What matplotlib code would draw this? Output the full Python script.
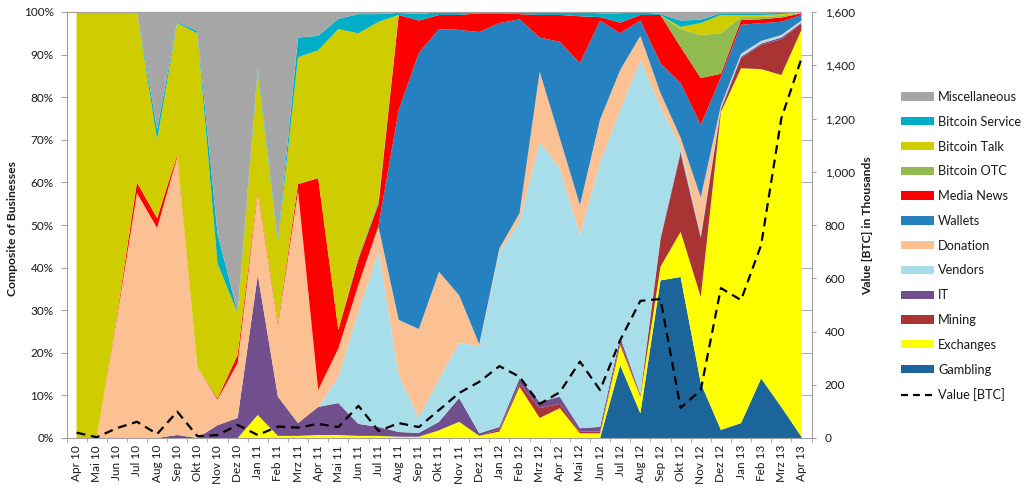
import numpy as np
import matplotlib
matplotlib.use("Agg")
import matplotlib.pyplot as plt
from matplotlib.patches import Patch
from matplotlib.lines import Line2D
from matplotlib.ticker import MultipleLocator, FixedLocator

plt.rcParams['font.family'] = ['Lato', 'DejaVu Sans']

months = ["Apr 10", "Mai 10", "Jun 10", "Jul 10", "Aug 10", "Sep 10", "Okt 10", "Nov 10", "Dez 10",
          "Jan 11", "Feb 11", "Mrz 11", "Apr 11", "Mai 11", "Jun 11", "Jul 11", "Aug 11", "Sep 11",
          "Okt 11", "Nov 11", "Dez 11", "Jan 12", "Feb 12", "Mrz 12", "Apr 12", "Mai 12", "Jun 12",
          "Jul 12", "Aug 12", "Sep 12", "Okt 12", "Nov 12", "Dez 12", "Jan 13", "Feb 13", "Mrz 13",
          "Apr 13"]

# percentage share of each business category per month
gambling = [0, 0, 0, 0, 0, 0, 0, 0, 0, 0, 0, 0, 0, 0, 0, 0, 0, 0, 0, 0, 0, 0, 0, 0, 0, 0, 0,
            17.1, 5.8, 37, 37.8, 12.9, 1.9, 3.5, 14, 7.3, 0.3]
exchanges = [0, 0, 0, 0, 0, 0, 0, 0, 0, 5.4, 0.5, 0.5, 0.7, 0.7, 0.5, 0.5, 0.3, 0.3, 1.8, 3.8, 0.5,
             1.5, 12, 4.7, 7, 1.1, 1.1, 4.7, 3.9, 3.2, 10.6, 20.2, 74.6, 83.3, 72.6, 77.9, 95.5]
mining = [0, 0, 0, 0, 0, 0, 0, 0, 0, 0, 0, 0, 0, 0, 0, 0, 0, 0, 0, 0, 0, 0.5, 0.7, 2.3, 1, 0.4, 0.4,
          0.7, 0.3, 6.3, 18.4, 13.8, 0.5, 2.4, 5.7, 8.4, 1.5]
it = [0, 0, 0, 0, 0, 0.7, 0, 3, 4.7, 32.9, 9.2, 3, 6.6, 7.5, 2.8, 2.1, 1.1, 0.9, 2, 5.6, 0.6, 0.6,
      1.3, 1.5, 1.7, 0.8, 1.1, 1.2, 0.3, 0.5, 0.5, 0.4, 0.3, 0.3, 0.3, 0.4, 0.2]
vendors = [0, 0, 0, 0, 0, 0, 0, 0, 0, 0, 0, 0, 0, 6.1, 26.3, 41.4, 13.4, 3.5, 10, 12.9, 20.5, 41.1,
           36.8, 61, 53.6, 45.4, 62.1, 53.3, 78.4, 30.7, 1.2, 0.5, 0.4, 0.5, 0.4, 0.4, 0.3]
donation = [0, 0, 28, 57.5, 49.3, 65.3, 16.7, 6, 12.9, 19.4, 16.8, 54.5, 4, 6.7, 6.4, 5.5, 12.9,
            20.9, 25.2, 11.2, 0.4, 0.8, 2, 16.5, 7.1, 7, 10.1, 9.4, 5.7, 3.3, 2, 8.7, 0.3, 0.2, 0.2,
            0.2, 0.2]
wallets = [0, 0, 0, 0, 0, 0, 0, 0, 0, 0, 0, 0, 0, 0, 0, 0.5, 49.3, 64.8, 57, 62.3, 73.3, 52.9, 45.5,
           8, 22.6, 33.3, 23.2, 8.6, 3.6, 7, 12.8, 17, 6.7, 6.8, 4.2, 3.1, 1.3]
media_news = [0, 0, 0.5, 2.5, 2.3, 0.5, 0, 0.3, 1.9, 0.5, 0.5, 1.6, 49.7, 4.4, 6, 5, 22.3, 7.6, 3.3,
              3.5, 4.4, 2.3, 1.2, 5.3, 6.3, 11, 0.8, 2.5, 1.3, 11.3, 8.5, 11, 0.8, 1.1, 0.9, 1, 0.4]
bitcoin_otc = [0, 0, 0, 0, 0, 0, 0, 0, 0, 0, 0, 0, 0, 0, 1, 1, 0, 0, 0, 0, 0, 0, 0, 0, 0, 0, 0, 0,
               0, 0, 4.2, 10.1, 9.5, 0.7, 0.5, 0.4, 0.1]
bitcoin_talk = [100, 100, 71.5, 40, 18.4, 30.9, 78.3, 31.7, 9.8, 27.8, 18.8, 29.8, 30, 70.6, 52,
                41.7, 0, 0, 0, 0, 0, 0, 0, 0, 0, 0, 0, 0, 0, 0, 0.5, 2.8, 4.3, 0.5, 0.5, 0.4, 0.1]
bitcoin_service = [0, 0, 0, 0, 2.5, 0.3, 0.5, 7, 0.2, 1, 0.7, 4.6, 3.4, 2.4, 4.5, 1.8, 0.5, 1.5,
                   0.7, 0.7, 0.3, 0.3, 0.5, 0.7, 0.7, 1, 0.9, 2.2, 0.7, 0.2, 1.5, 0.8, 0.4, 0.4, 0.4,
                   0.3, 0.1]
miscellaneous = [0, 0, 0, 0, 27.5, 2.3, 4.5, 52, 70.5, 13, 53.5, 6, 5.6, 1.6, 0.5, 0.5, 0.2, 0.5,
                 0, 0, 0, 0, 0, 0, 0, 0, 0.3, 0.3, 0, 0.5, 2, 1.8, 0.3, 0.3, 0.3, 0.2, 0]

# total value in thousands of BTC
value_btc = [20, 3, 37, 61, 15, 99, 7, 11, 49, 11, 43, 39, 53, 41, 121, 26, 56, 41, 105, 169, 211,
             270, 230, 128, 172, 287, 180, 368, 515, 522, 113, 180, 563, 518, 725, 1200, 1425]

names = ["Gambling", "Exchanges", "Mining", "IT", "Vendors", "Donation", "Wallets", "Media News",
         "Bitcoin OTC", "Bitcoin Talk", "Bitcoin Service", "Miscellaneous"]
colors = ["#1B659A", "#FFFF00", "#AA3333", "#704F8C", "#A7DEEA", "#FCC192", "#2581C0", "#FF0000",
          "#92BB4F", "#CFCC00", "#00AEC7", "#A6A6A6"]

series = np.array([gambling, exchanges, mining, it, vendors, donation, wallets, media_news,
                   bitcoin_otc, bitcoin_talk, bitcoin_service, miscellaneous], dtype=float)
series = series / series.sum(axis=0) * 100.0

fig = plt.figure(figsize=(10.24, 4.95), dpi=100)
ax = fig.add_axes([66.5 / 1024, 1 - 438 / 495, (811.5 - 66.5) / 1024, 426 / 495])
x = np.arange(len(months))
ax.stackplot(x, *series, colors=colors, linewidth=0, antialiased=True)
ax.set_xlim(-0.5, len(months) - 0.5)
ax.set_ylim(0, 100)

grey = "#A0A0A0"
txt = "#1A1A1A"
fs = 8.5
for s in ["top", "right"]:
    ax.spines[s].set_visible(False)
for s in ["left", "bottom"]:
    ax.spines[s].set_color(grey)
ax.plot([-0.5, len(months) - 1], [100, 100], color=grey, lw=0.9, clip_on=False, zorder=3)

ax.set_yticks(range(0, 101, 10))
ax.set_yticklabels([f"{v}%" for v in range(0, 101, 10)], fontsize=fs, color=txt)
ax.tick_params(axis="y", direction="out", length=4.3, color=grey, pad=5)
ax.set_xticks(x)
ax.set_xticklabels(months, rotation=90, fontsize=fs, color=txt)
ax.tick_params(axis="x", which="major", length=0, pad=5)
ax.xaxis.set_minor_locator(FixedLocator(np.arange(-0.5, len(months), 1.0)))
ax.tick_params(axis="x", which="minor", length=3, color=grey, direction="out")

ax2 = ax.twinx()
ax2.plot(x, value_btc, color="black", lw=1.6, ls=(0, (4, 2.6)))
ax2.set_ylim(0, 1600)
ax2.set_yticks(range(0, 1601, 200))
ax2.set_yticklabels([f"{v:,}" for v in range(0, 1601, 200)], fontsize=fs, color=txt)
ax2.yaxis.set_minor_locator(MultipleLocator(160))
ax2.tick_params(axis="y", which="major", direction="out", length=3, color=grey, pad=6.5)
ax2.tick_params(axis="y", which="minor", direction="in", length=8, color=grey)
for s in ["top", "left", "bottom"]:
    ax2.spines[s].set_visible(False)
ax2.spines["right"].set_color(grey)

fig.text(12.5 / 1024, 1 - 228 / 495, "Composite of Businesses", rotation=90, ha="center",
         va="center", fontsize=8.7, fontweight="bold", color=txt)
fig.text(868 / 1024, 1 - 226 / 495, "Value [BTC] in Thousands", rotation=90, ha="center",
         va="center", fontsize=8.7, fontweight="bold", color=txt)

handles = [Patch(facecolor=c, edgecolor="none") for c in colors[::-1]]
labels = names[::-1]
handles.append(Line2D([0], [0], color="black", lw=1.6, ls=(0, (3.1, 2.3))))
labels.append("Value [BTC]")
fig.legend(handles, labels, loc="upper left", bbox_to_anchor=(901 / 1024, 1 - 91 / 495),
           frameon=False, fontsize=9.2, handlelength=2.6, handleheight=0.63, handletextpad=0.3,
           labelspacing=1.0, borderpad=0, borderaxespad=0, labelcolor=txt)

fig.savefig("out.png", dpi=100)
